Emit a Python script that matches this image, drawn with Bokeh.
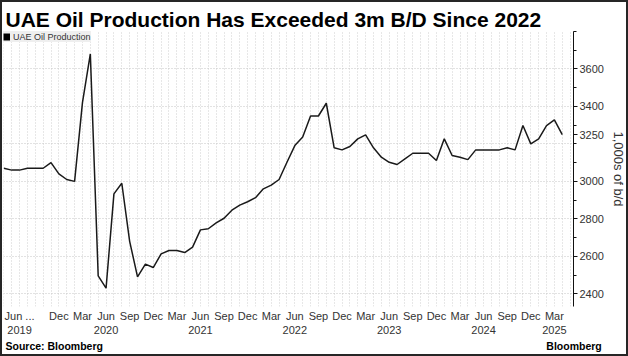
import numpy as np
import pandas as pd
from bokeh.plotting import figure
from bokeh.models import Range1d, FixedTicker, Legend, LegendItem, Title
from bokeh.embed import file_html
from bokeh.resources import INLINE

# ---------------- data ----------------
title_text = "UAE Oil Production Has Exceeded 3m B/D Since 2022"
series_name = "UAE Oil Production"
y_axis_title = "1,000s of b/d"
source_text = "Source: Bloomberg"
brand_text = "Bloomberg"

months = [str(m) for m in pd.period_range("2019-05", "2025-04", freq="M")]

production = [
    3070, 3060, 3060, 3070, 3070, 3070, 3100, 3040,                          # 2019 May-Dec
    3010, 3000, 3420, 3680, 2495, 2430, 2933, 2990, 2680, 2490, 2558, 2540,  # 2020
    2613, 2631, 2631, 2620, 2649, 2741, 2747, 2778, 2803, 2846, 2873, 2891,  # 2021
    2913, 2960, 2980, 3010, 3102, 3191, 3237, 3349, 3349, 3417, 3179, 3168,  # 2022
    3186, 3227, 3248, 3179, 3129, 3102, 3090, 3120, 3150, 3150, 3150, 3111,  # 2023
    3227, 3138, 3129, 3116, 3168, 3168, 3168, 3168, 3179, 3168, 3298, 3200,  # 2024
    3227, 3298, 3328, 3250,                                                  # 2025 Jan-Apr
]

x_tick_months = ["2019-06", "2019-12",
                 "2020-03", "2020-06", "2020-09", "2020-12",
                 "2021-03", "2021-06", "2021-09", "2021-12",
                 "2022-03", "2022-06", "2022-09", "2022-12",
                 "2023-03", "2023-06", "2023-09", "2023-12",
                 "2024-03", "2024-06", "2024-09", "2024-12",
                 "2025-03"]
x_tick_labels = ["Jun ...\n2019", "Dec",
                 "Mar", "Jun\n2020", "Sep", "Dec",
                 "Mar", "Jun\n2021", "Sep", "Dec",
                 "Mar", "Jun\n2022", "Sep", "Dec",
                 "Mar", "Jun\n2023", "Sep", "Dec",
                 "Mar", "Jun\n2024", "Sep", "Dec",
                 "Mar\n2025"]

y_ticks = [2400, 2600, 2800, 3000, 3200, 3400, 3600]
y_minor_ticks = [2400, 2500, 2600, 2700, 2800, 2900, 3000, 3100, 3200,
                 3300, 3400, 3500, 3600, 3700, 3800]

# ---------------- layout constants ----------------
FONT = "Liberation Sans"
W, H = 628, 356          # the 2px page border sits inside this box
B_LEFT, B_RIGHT, B_TOP, B_BOTTOM = 1, 57, 29, 52

x = np.arange(len(months))
tick_pos = [float(months.index(m)) for m in x_tick_months]
tick_pos[0] += 1.0   # the truncated first label ("Jun ...") sits a little to the right

p = figure(width=W, height=H, output_backend="svg", toolbar_location=None,
           x_range=Range1d(-0.04, 72.43), y_range=Range1d(2332, 3800),
           y_axis_location="right",
           min_border_left=B_LEFT, min_border_right=B_RIGHT,
           min_border_top=B_TOP, min_border_bottom=B_BOTTOM,
           background_fill_color="white", border_fill_color="white",
           styles={"border": "2px solid #262626"})
p.outline_line_color = None

# title
p.title.text = title_text
p.title.text_font = FONT
p.title.text_font_style = "bold"
p.title.text_font_size = "21px"
p.title.text_color = "black"
p.title.align = "left"
p.title.offset = 2
p.title.standoff = 2

line = p.line(x, production, line_color="#1a1a1a", line_width=1.5)
# thick NaN proxy so that the legend swatch is a small black square
swatch = p.line(x=[np.nan], y=[np.nan], line_color="black", line_width=7)

# x axis
p.xaxis.ticker = FixedTicker(ticks=tick_pos)
p.xaxis.major_label_overrides = {t: s for t, s in zip(tick_pos, x_tick_labels)}
p.xaxis.axis_line_color = None
p.xaxis.major_tick_line_color = None
p.xaxis.minor_tick_line_color = None
p.xaxis.major_tick_out = 0
p.xaxis.major_tick_in = 0
p.xaxis.minor_tick_out = 0
p.xaxis.minor_tick_in = 0
p.xaxis.major_label_text_font = FONT
p.xaxis.major_label_text_font_size = "11px"
p.xaxis.major_label_text_color = "#333333"
p.xaxis.major_label_standoff = 3

# footer (below the x axis): source on the left, brand on the right
NB = "\u00a0"
p.add_layout(Title(text=source_text + NB * 152 + brand_text, text_font=FONT,
                   text_font_style="bold", text_font_size="10.5px", text_color="black",
                   align="left", vertical_align="top", offset=2, standoff=3), "below")

# y axis (right); the last value is flagged on the axis, covering the 3200 label
last_val = production[-1]
axis_major = sorted([t for t in y_ticks if abs(t - last_val) > 100] + [last_val])
p.yaxis.ticker = FixedTicker(ticks=axis_major, minor_ticks=y_minor_ticks)
p.yaxis.axis_line_color = "#111111"
p.yaxis.major_tick_line_color = "#111111"
p.yaxis.minor_tick_line_color = "#111111"
p.yaxis.major_tick_in = 0
p.yaxis.major_tick_out = 4
p.yaxis.minor_tick_in = 0
p.yaxis.minor_tick_out = 3
p.yaxis.major_label_standoff = 2
p.yaxis.major_label_text_font = FONT
p.yaxis.major_label_text_font_size = "11px"
p.yaxis.major_label_text_color = "#333333"
p.yaxis.axis_label = y_axis_title
p.yaxis.axis_label_text_font = FONT
p.yaxis.axis_label_text_font_style = "normal"
p.yaxis.axis_label_text_font_size = "13px"
p.yaxis.axis_label_text_color = "#333333"
p.yaxis.axis_label_standoff = 4

# grids
p.xgrid.ticker = FixedTicker(ticks=list(range(len(months) + 1)))
p.xgrid.grid_line_color = "#cfcfcf"
p.xgrid.grid_line_dash = "1 2"
p.ygrid.ticker = FixedTicker(ticks=y_ticks)
p.ygrid.grid_line_color = "#c4c4c4"
p.ygrid.grid_line_dash = "1 2"

# legend
lg = Legend(items=[LegendItem(label=series_name, renderers=[swatch])],
            location="top_left", margin=0, padding=4, spacing=0,
            glyph_width=7, glyph_height=11, label_standoff=3, label_height=11,
            label_text_font=FONT, label_text_font_size="9px", label_text_color="#333333",
            background_fill_color="#efefef", background_fill_alpha=1,
            border_line_color=None)
p.add_layout(lg)

open("out.html", "w").write(file_html(p, INLINE))
